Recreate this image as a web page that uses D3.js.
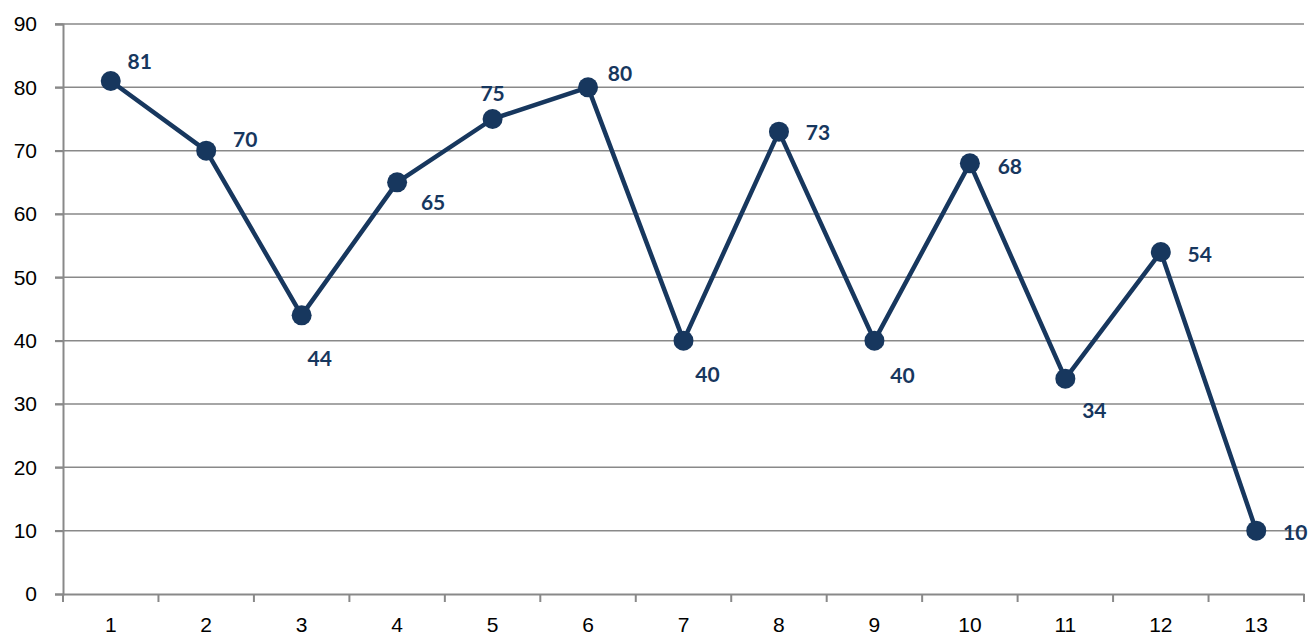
<!DOCTYPE html>
<html>
<head>
<meta charset="utf-8">
<script src="https://cdn.jsdelivr.net/npm/d3@7"></script>
<style>
  body { margin: 0; background: #fff; }
  svg { font-family: Lato, "Open Sans", sans-serif; }
  .tick text { font-size: 21px; fill: #000; }
  .domain, .tick line { stroke: #898989; stroke-width: 2; }
  .grid line { stroke: #898989; stroke-width: 1.5; }
  .lbl { font-size: 21px; font-weight: bold; fill: #17375e; }
</style>
</head>
<body>
<svg width="1313" height="639"></svg>
<script>
const categories = ['1','2','3','4','5','6','7','8','9','10','11','12','13']
const values = [81, 70, 44, 65, 75, 80, 40, 73, 40, 68, 34, 54, 10]
const yTicks = [0, 10, 20, 30, 40, 50, 60, 70, 80, 90]

// label nudges (px from the marker), copied from where excel put them
const labelNudge = [
  [29, -21], [39, -12], [18, 42], [36, 19], [0, -27], [32, -15], [24, 33],
  [39, 0], [28, 34], [40, 2], [29, 31], [39, 1], [39, 1]
]

const margin = {top: 24, right: 9, bottom: 45, left: 63}
const width = 1313 - margin.left - margin.right
const height = 639 - margin.top - margin.bottom
const color = '#17375e'

const xScale = d3.scaleBand()
                 .domain(categories)
                 .range([0, width])
const yScale = d3.scaleLinear()
                 .domain([0, 90])
                 .range([height, 0])

const container = d3.select('svg')
    .append('g')
    .attr('transform', `translate(${margin.left},${margin.top})`)

// horizontal gridlines
container.append('g')
    .classed('grid', true)
    .selectAll('line')
    .data(yTicks.filter(d => d > 0))
    .enter()
    .append('line')
    .attr('x1', -8)
    .attr('x2', width)
    .attr('y1', d => yScale(d))
    .attr('y2', d => yScale(d))

const yAxis = d3.axisLeft(yScale)
                .tickValues(yTicks)
                .tickSize(8)
                .tickPadding(18)
const yAxisG = container.append('g').call(yAxis)

const xAxis = d3.axisBottom(xScale).tickSize(0).tickPadding(23)
const xAxisG = container.append('g')
    .attr('transform', `translate(0,${height})`)
    .call(xAxis)

// tick marks sit between categories, like excel
xAxisG.selectAll('.sep')
    .data(d3.range(categories.length + 1))
    .enter()
    .append('line')
    .attr('x1', i => i * xScale.step())
    .attr('x2', i => i * xScale.step())
    .attr('y1', 0)
    .attr('y2', 8)
    .attr('stroke', '#898989')
    .attr('stroke-width', 2)

const cx = (d, i) => xScale(categories[i]) + xScale.bandwidth() / 2

const line = d3.line()
    .x(cx)
    .y(d => yScale(d))

container.append('path')
    .datum(values)
    .attr('d', line)
    .attr('fill', 'none')
    .attr('stroke', color)
    .attr('stroke-width', 4.5)
    .attr('stroke-linejoin', 'round')

container.selectAll('.dot')
    .data(values)
    .enter()
    .append('circle')
    .classed('dot', true)
    .attr('cx', cx)
    .attr('cy', d => yScale(d))
    .attr('r', 10)
    .attr('fill', color)

container.selectAll('.lbl')
    .data(values)
    .enter()
    .append('text')
    .classed('lbl', true)
    .attr('text-anchor', 'middle')
    .attr('dominant-baseline', 'central')
    .attr('x', (d, i) => cx(d, i) + labelNudge[i][0])
    .attr('y', (d, i) => yScale(d) + labelNudge[i][1])
    .text(d => d)
</script>
</body>
</html>
